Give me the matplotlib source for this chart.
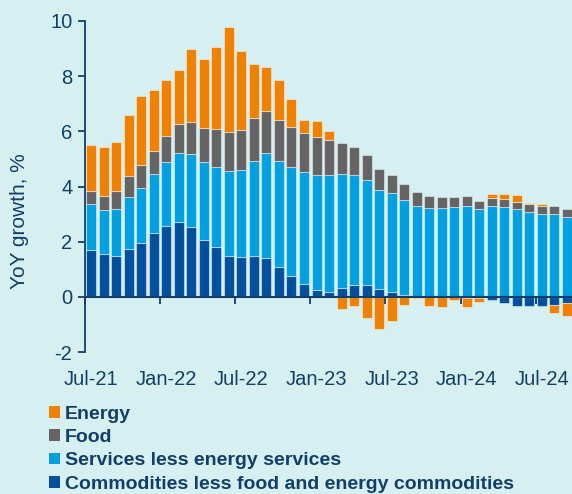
import numpy as np
import matplotlib.pyplot as plt
from matplotlib.ticker import FixedLocator

plt.rcParams["font.family"] = ["Liberation Sans", "DejaVu Sans"]
plt.rcParams["axes.unicode_minus"] = False

# monthly contributions, Jul-21 .. Sep-24 (percentage points)
commodities = [1.71, 1.56, 1.48, 1.73, 1.96, 2.32, 2.56, 2.71, 2.53, 2.06, 1.80, 1.48, 1.44,
               1.47, 1.40, 1.08, 0.77, 0.45, 0.26, 0.17, 0.31, 0.43, 0.43, 0.28, 0.18, 0.08,
               0.00, 0.00, 0.00, 0.00, -0.04, -0.04, -0.13, -0.24, -0.33, -0.34, -0.33, -0.31, -0.24]
services = [1.64, 1.60, 1.70, 1.90, 1.99, 2.14, 2.33, 2.51, 2.65, 2.83, 2.92, 3.10, 3.16,
            3.46, 3.81, 3.85, 3.92, 4.08, 4.17, 4.23, 4.15, 3.97, 3.81, 3.60, 3.58, 3.44,
            3.31, 3.23, 3.23, 3.24, 3.30, 3.18, 3.29, 3.24, 3.17, 3.06, 3.00, 3.02, 2.90]
food = [0.47, 0.49, 0.64, 0.74, 0.83, 0.82, 0.93, 1.03, 1.16, 1.23, 1.35, 1.38, 1.45,
        1.54, 1.51, 1.48, 1.46, 1.40, 1.35, 1.28, 1.12, 1.02, 0.91, 0.76, 0.66, 0.58,
        0.50, 0.44, 0.40, 0.39, 0.34, 0.30, 0.29, 0.29, 0.26, 0.30, 0.29, 0.28, 0.30]
energy = [1.70, 1.80, 1.81, 2.22, 2.51, 2.22, 2.04, 1.97, 2.64, 2.50, 2.97, 3.83, 2.87,
          1.96, 1.60, 1.44, 1.01, 0.49, 0.61, 0.35, -0.45, -0.34, -0.77, -1.15, -0.87, -0.28,
          -0.03, -0.33, -0.37, -0.13, -0.31, -0.15, 0.15, 0.19, 0.27, 0.06, 0.07, -0.27, -0.46]

tick_labels = ["Jul-21", "Jan-22", "Jul-22", "Jan-23", "Jul-23", "Jan-24", "Jul-24"]

series = [
    ("Commodities less food and energy commodities", commodities, "#00509E"),
    ("Services less energy services", services, "#009FE0"),
    ("Food", food, "#646464"),
    ("Energy", energy, "#F08000"),
]

bg = "#D6F0F1"
navy = "#123E69"

fig = plt.figure(figsize=(5.72, 4.94), dpi=100, facecolor=bg)
ax = fig.add_axes([0.1483, 0.2874, 0.8517, 0.6701])
ax.set_facecolor(bg)

n = len(commodities)
x = np.arange(n)
pos_bottom = np.zeros(n)
neg_bottom = np.zeros(n)
handles = []
for label, vals, color in series:
    v = np.array(vals)
    bottom = np.where(v >= 0, pos_bottom, neg_bottom)
    b = ax.bar(x, v, bottom=bottom, width=0.8, color=color,
               edgecolor=(1, 1, 1, 0.45), linewidth=0.8, label=label)
    handles.append(b)
    pos_bottom += np.clip(v, 0, None)
    neg_bottom += np.clip(v, None, 0)

ax.set_xlim(-0.5, 38.4)
ax.set_ylim(-2, 10)
ax.set_yticks([-2, 0, 2, 4, 6, 8, 10])

for s in ["top", "right"]:
    ax.spines[s].set_visible(False)
ax.spines["left"].set_color(navy)
ax.spines["left"].set_linewidth(1.3)
ax.spines["bottom"].set_position(("data", 0))
ax.spines["bottom"].set_color(navy)
ax.spines["bottom"].set_linewidth(1.5)

# major ticks at month boundaries, labels on the months themselves
ax.xaxis.set_major_locator(FixedLocator(np.arange(-0.5, n, 6)))
ax.xaxis.set_major_formatter(plt.NullFormatter())
ax.set_xticks(np.arange(0, n, 6), tick_labels, minor=True)
ax.tick_params(axis="x", which="major", direction="out", length=5, width=1.3, color=navy)
ax.tick_params(axis="x", which="minor", length=0, pad=53, labelsize=14.5, labelcolor=navy)
ax.tick_params(axis="y", direction="out", length=5, width=1.3, color=navy,
               labelsize=14.5, labelcolor=navy, pad=4)

fig.text(20 / 572, 1 - 221 / 494, "YoY growth, %", rotation=90, ha="center", va="center",
         fontsize=15, color=navy)

leg = fig.legend(handles[::-1], [s[0] for s in series[::-1]], loc="upper left",
                 bbox_to_anchor=(49 / 572, 1 - 406 / 494), frameon=False,
                 handlelength=0.55, handleheight=0.55, handletextpad=0.25,
                 labelspacing=0.32, borderaxespad=0, borderpad=0,
                 prop={"weight": "bold", "size": 14}, labelcolor=navy)
for h in leg.legend_handles:
    h.set_edgecolor("none")

fig.savefig("out.png", dpi=100, facecolor=bg)
